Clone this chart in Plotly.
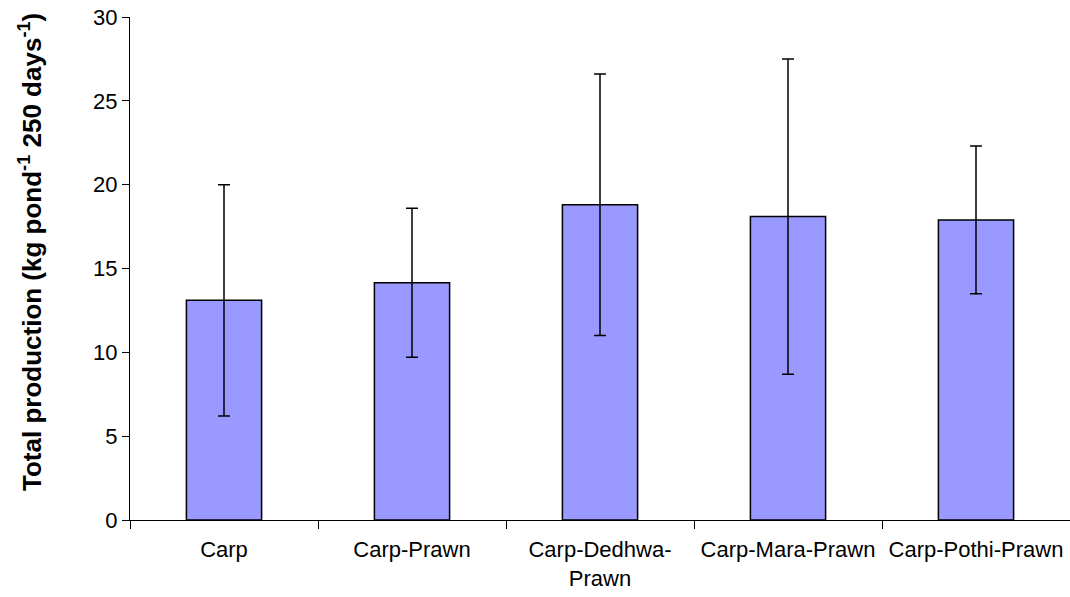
import plotly.graph_objects as go

categories = ["Carp", "Carp-Prawn", "Carp-Dedhwa-<br>Prawn", "Carp-Mara-Prawn", "Carp-Pothi-Prawn"]
production = [13.1, 14.15, 18.8, 18.1, 17.9]
error = [6.9, 4.45, 7.8, 9.4, 4.4]
y_ticks = [0, 5, 10, 15, 20, 25, 30]
y_title = "<b>Total production (kg pond<sup>-1</sup> 250 days<sup>-1</sup>)</b>"

fig = go.Figure()
fig.add_trace(go.Bar(
    x=categories,
    y=production,
    width=0.4,
    marker=dict(color="#9999FF", line=dict(color="black", width=1.5)),
    error_y=dict(type="data", array=error, visible=True, color="black", thickness=1.5, width=6),
))

font_family = "Liberation Sans, Arial, sans-serif"
fig.update_layout(
    width=1070,
    height=597,
    margin=dict(l=130, r=0, t=17, b=77),
    paper_bgcolor="white",
    plot_bgcolor="white",
    showlegend=False,
    font=dict(family=font_family, color="black"),
    xaxis=dict(
        automargin=False,
        showline=True, linecolor="black", linewidth=1,
        ticks="outside", tickson="boundaries", ticklen=8, tickcolor="black", tickwidth=1,
        tickfont=dict(size=22, family=font_family, color="black"),
        showgrid=False,
        ticklabelstandoff=10,
    ),
    yaxis=dict(
        automargin=False,
        range=[0, 30],
        tickvals=y_ticks,
        showline=True, linecolor="black", linewidth=1,
        ticks="outside", ticklen=7, tickcolor="black", tickwidth=1,
        tickfont=dict(size=22, family=font_family, color="black"),
        showgrid=False, zeroline=False,
    ),
    annotations=[dict(
        text=y_title,
        xref="paper", yref="paper",
        x=(31 - 130) / 940, y=(520 - 252) / 503,
        xanchor="center", yanchor="middle",
        textangle=-90, showarrow=False,
        font=dict(size=26, family=font_family, color="black"),
    )],
)

fig.write_html(
    "out.html",
    config={"displayModeBar": False},
    post_script="document.body.style.margin='0';document.body.style.overflow='hidden';",
)
